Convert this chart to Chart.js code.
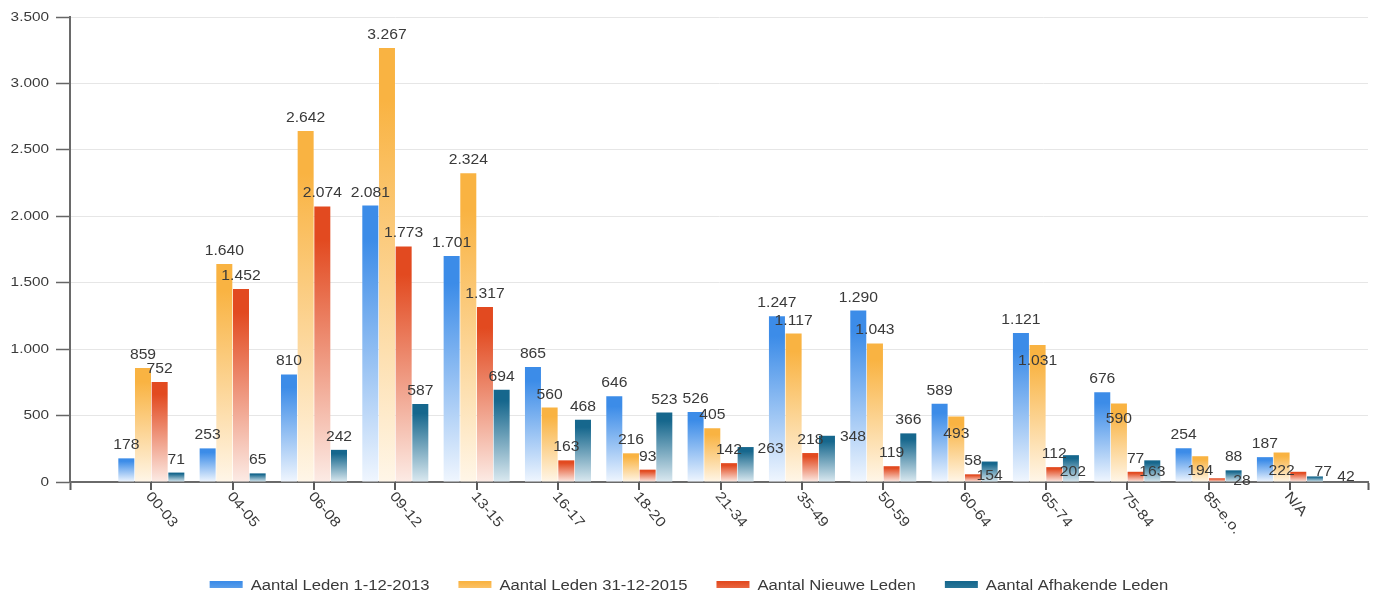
<!DOCTYPE html>
<html lang="nl">
<head>
<meta charset="utf-8">
<title>Leden per leeftijdsgroep</title>
<script src="https://cdn.jsdelivr.net/npm/chart.js@4.4.1/dist/chart.umd.min.js"></script>
<style>
  html, body { margin: 0; padding: 0; background: #ffffff; }
  #wrap { position: relative; width: 1378px; height: 593px; }
</style>
</head>
<body>
<div id="wrap"><canvas id="chart" width="1378" height="593"></canvas></div>
<script>
// Age groups along the x axis
const categories = ['00-03', '04-05', '06-08', '09-12', '13-15', '16-17', '18-20', '21-34',
                    '35-49', '50-59', '60-64', '65-74', '75-84', '85-e.o.', 'N/A'];

// Member counts per age group
const ledenDec2013 = [178, 253, 810, 2081, 1701, 865, 646, 526, 1247, 1290, 589, 1121, 676, 254, 187];
const ledenDec2015 = [859, 1640, 2642, 3267, 2324, 560, 216, 405, 1117, 1043, 493, 1031, 590, 194, 222];
const nieuweLeden  = [752, 1452, 2074, 1773, 1317, 163, 93, 142, 218, 119, 58, 112, 77, 28, 77];
const afhakers     = [71, 65, 242, 587, 694, 468, 523, 263, 348, 366, 154, 202, 163, 88, 42];

const seriesNames = ['Aantal Leden 1-12-2013', 'Aantal Leden 31-12-2015', 'Aantal Nieuwe Leden', 'Aantal Afhakende Leden'];

// Y axis tick values
const yTicks = [0, 500, 1000, 1500, 2000, 2500, 3000, 3500];

// Value labels that are shifted away from their default spot: [series, category, dx, dy]
const labelNudges = [
  [3, 7, 25, 15], [3, 8, 26, 14],
  [1, 10, 0, 30], [3, 10, 0, 27],
  [1, 11, 0, 29], [3, 11, 2, 30],
  [1, 12, 0, 28], [3, 12, 0, 25],
  [1, 13, 0, 28], [2, 13, 25, 16],
  [1, 14, 0, 31], [2, 14, 25, 13], [3, 14, 31, 14]
];

// Bar colours: saturated at the top of each bar, fading towards the base
const palette = [
  { top: '#3c8ce8', bottom: '#f0f6fe', legend: '#5ea0ea' },
  { top: '#f9b342', bottom: '#fff6e8', legend: '#fcc46c' },
  { top: '#e24a20', bottom: '#fcebe5', legend: '#ea6a45' },
  { top: '#16678d', bottom: '#dbe9f0', legend: '#2c7899' }
];

const TEXT_COLOR = '#3a3a3a';
const AXIS_COLOR = '#5a5a5a';
const FONT = '"Liberation Sans", Arial, sans-serif';
const STRETCH = 1.18;

function fmt(v) {
  return String(v).replace(/\B(?=(\d{3})+(?!\d))/g, '.');
}

function barFill(context, idx) {
  const c = palette[idx];
  if (context.type !== 'data') return c.legend;
  const chart = context.chart;
  const y = chart.scales.y;
  if (!y || y.top === undefined) return c.top;
  const top = y.getPixelForValue(context.raw.y);
  const base = y.getPixelForValue(0);
  if (!isFinite(top) || !isFinite(base) || base - top < 1) return c.top;
  const g = chart.ctx.createLinearGradient(0, top, 0, base);
  g.addColorStop(0, c.top);
  g.addColorStop(0.12, c.top);
  g.addColorStop(1, c.bottom);
  return g;
}

// Draw text stretched horizontally around its anchor point
function stretchedText(ctx, text, x, y, align, sx) {
  ctx.save();
  ctx.translate(x, y);
  ctx.scale(sx, 1);
  ctx.textAlign = align;
  ctx.fillText(text, 0, 0);
  ctx.restore();
}

const seriesData = [ledenDec2013, ledenDec2015, nieuweLeden, afhakers];

const datasets = seriesData.map((arr, idx) => ({
  label: seriesNames[idx],
  data: arr.map((v, i) => ({ x: i, y: v })),
  backgroundColor: ctx => barFill(ctx, idx),
  borderWidth: 0,
  barPercentage: 0.96,
  categoryPercentage: 0.82
}));

// Value labels above each bar
const valueLabels = {
  id: 'valueLabels',
  afterDatasetsDraw(chart) {
    const ctx = chart.ctx;
    ctx.save();
    ctx.font = '14px ' + FONT;
    ctx.fillStyle = TEXT_COLOR;
    ctx.textBaseline = 'alphabetic';
    chart.data.datasets.forEach((ds, di) => {
      const meta = chart.getDatasetMeta(di);
      meta.data.forEach((el, i) => {
        const n = labelNudges.find(e => e[0] === di && e[1] === i);
        const dx = n ? n[2] : 0;
        const dy = n ? n[3] : 0;
        stretchedText(ctx, fmt(ds.data[i].y), el.x + dx, el.y - 9 + dy, 'center', 1.12);
      });
    });
    ctx.restore();
  }
};

// Y tick labels, category tick marks and rotated category labels
const axisLabels = {
  id: 'axisLabels',
  afterDraw(chart) {
    const ctx = chart.ctx;
    const ys = chart.scales.y;
    const xs = chart.scales.x;
    ctx.save();
    ctx.fillStyle = TEXT_COLOR;
    ctx.font = '13px ' + FONT;
    ctx.textBaseline = 'middle';
    yTicks.forEach(v => {
      stretchedText(ctx, fmt(v), ys.right - 21, ys.getPixelForValue(v), 'right', STRETCH);
    });

    ctx.strokeStyle = AXIS_COLOR;
    ctx.lineWidth = 2;
    categories.forEach((c, i) => {
      const px = Math.round(xs.getPixelForValue(i));
      ctx.beginPath();
      ctx.moveTo(px, xs.top);
      ctx.lineTo(px, xs.top + 8);
      ctx.stroke();
    });

    ctx.font = '14px ' + FONT;
    categories.forEach((c, i) => {
      const px = xs.getPixelForValue(i);
      ctx.save();
      ctx.translate(px - 3, xs.top + 12);
      ctx.rotate(50 * Math.PI / 180);
      ctx.scale(1.15, 1);
      ctx.textAlign = 'left';
      ctx.textBaseline = 'middle';
      ctx.fillText(c, 0, 0);
      ctx.restore();
    });
    ctx.restore();
  }
};

// Legend centred along the bottom
const bottomLegend = {
  id: 'bottomLegend',
  afterDraw(chart) {
    const ctx = chart.ctx;
    const boxW = 33, boxH = 7, gapText = 8, gapItem = 29, sx = 1.19;
    ctx.save();
    ctx.font = '14px ' + FONT;
    const items = chart.data.datasets.map((ds, i) => ({
      text: ds.label, color: palette[i], w: ctx.measureText(ds.label).width * sx
    }));
    const total = items.reduce((s, it) => s + boxW + gapText + it.w, 0) + gapItem * (items.length - 1);
    let x = (chart.width - total) / 2;
    const cy = 585.5;
    items.forEach(it => {
      const g = ctx.createLinearGradient(0, cy - boxH / 2, 0, cy + boxH / 2);
      g.addColorStop(0, it.color.top);
      g.addColorStop(1, it.color.legend);
      ctx.fillStyle = g;
      ctx.fillRect(x, cy - boxH / 2 - 1, boxW, boxH);
      ctx.fillStyle = TEXT_COLOR;
      ctx.textBaseline = 'middle';
      stretchedText(ctx, it.text, x + boxW + gapText, cy + 1, 'left', sx);
      x += boxW + gapText + it.w + gapItem;
    });
    ctx.restore();
  }
};

new Chart(document.getElementById('chart'), {
  type: 'bar',
  data: { datasets },
  plugins: [valueLabels, axisLabels, bottomLegend],
  options: {
    responsive: false,
    animation: false,
    layout: { padding: { top: 17, right: 10, bottom: 0, left: 0 } },
    plugins: {
      legend: { display: false },
      tooltip: { enabled: false }
    },
    scales: {
      x: {
        type: 'linear',
        offset: false,
        min: -1,
        max: 14.96,
        afterFit(scale) { scale.height = 111; },
        afterBuildTicks(scale) {
          scale.ticks = [-1, 14.96].map(v => ({ value: v }));
        },
        ticks: { display: false },
        grid: {
          offset: false,
          drawOnChartArea: false,
          drawTicks: true,
          tickLength: 8,
          tickColor: AXIS_COLOR,
          tickWidth: 2
        },
        border: { display: true, color: '#6a6a6a', width: 2 }
      },
      y: {
        min: 0,
        max: 3500,
        afterFit(scale) { scale.width = 70; },
        afterBuildTicks(scale) { scale.ticks = yTicks.map(v => ({ value: v })); },
        ticks: { display: false },
        grid: {
          color: '#e6e6e6',
          lineWidth: 1,
          drawTicks: true,
          tickLength: 14,
          tickColor: '#666666',
          tickWidth: 1.5
        },
        border: { display: true, color: '#6a6a6a', width: 2 }
      }
    }
  }
});
</script>
</body>
</html>
